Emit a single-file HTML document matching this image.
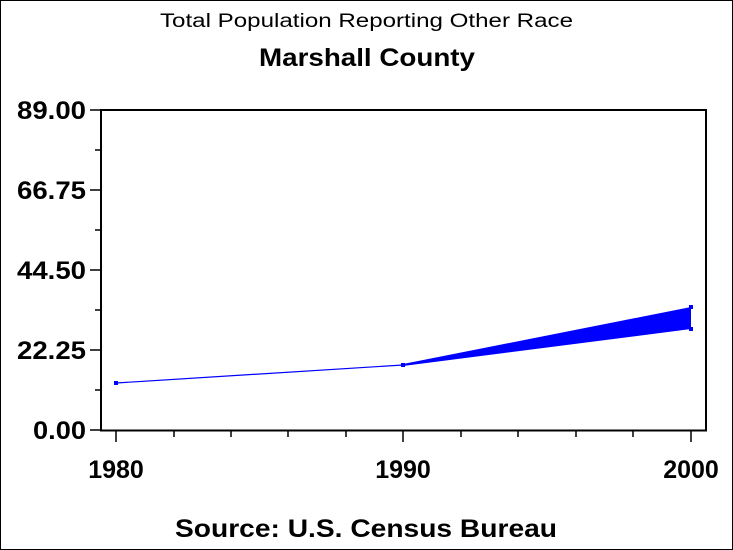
<!DOCTYPE html>
<html><head><style>
body{margin:0;background:#fff}
svg{display:block}
text{font-family:"Liberation Sans",Arial,sans-serif;fill:#000}
</style></head><body>
<svg width="733" height="550" viewBox="0 0 733 550">
<rect x="0.5" y="0.5" width="732" height="549" fill="#fff" stroke="#000"/>
<text x="160" y="27" font-size="19" textLength="413" lengthAdjust="spacingAndGlyphs">Total Population Reporting Other Race</text>
<text x="259" y="66" font-size="25" font-weight="bold" textLength="216" lengthAdjust="spacingAndGlyphs">Marshall County</text>
<text x="175" y="537" font-size="25" font-weight="bold" textLength="382" lengthAdjust="spacingAndGlyphs">Source: U.S. Census Bureau</text>
<rect x="101" y="110" width="605" height="320.5" fill="none" stroke="#000" stroke-width="2"/>
<g stroke="#000" stroke-width="1.5">
<line x1="90" y1="110" x2="101" y2="110"/><line x1="95" y1="150" x2="101" y2="150"/>
<line x1="90" y1="190" x2="101" y2="190"/><line x1="95" y1="230" x2="101" y2="230"/>
<line x1="90" y1="270" x2="101" y2="270"/><line x1="95" y1="310" x2="101" y2="310"/>
<line x1="90" y1="350" x2="101" y2="350"/><line x1="95" y1="390" x2="101" y2="390"/>
<line x1="90" y1="430" x2="101" y2="430"/>
<line x1="116" y1="430" x2="116" y2="442"/><line x1="403" y1="430" x2="403" y2="442"/><line x1="691" y1="430" x2="691" y2="442"/>
<line x1="174" y1="430" x2="174" y2="437"/><line x1="231" y1="430" x2="231" y2="437"/><line x1="288" y1="430" x2="288" y2="437"/><line x1="346" y1="430" x2="346" y2="437"/>
<line x1="461" y1="430" x2="461" y2="437"/><line x1="518" y1="430" x2="518" y2="437"/><line x1="576" y1="430" x2="576" y2="437"/><line x1="633" y1="430" x2="633" y2="437"/>
</g>
<g font-size="25" font-weight="bold">
<text x="17" y="119" textLength="69" lengthAdjust="spacingAndGlyphs">89.00</text>
<text x="17" y="199" textLength="69" lengthAdjust="spacingAndGlyphs">66.75</text>
<text x="17" y="279" textLength="69" lengthAdjust="spacingAndGlyphs">44.50</text>
<text x="17" y="359" textLength="69" lengthAdjust="spacingAndGlyphs">22.25</text>
<text x="33" y="439" textLength="53" lengthAdjust="spacingAndGlyphs">0.00</text>
</g>
<g font-size="25" text-anchor="middle" font-weight="bold">
<text x="116" y="478">1980</text><text x="403" y="478">1990</text><text x="691" y="478">2000</text>
</g>
<polyline points="116,383 403,365" fill="none" stroke="#00f" stroke-width="1.2"/>
<polygon points="403,364 691,307 691,329 403,366" fill="#00f"/>
<rect x="114" y="381" width="4" height="4" fill="#00f"/>
<rect x="401" y="363" width="4" height="4" fill="#00f"/>
<rect x="689" y="305" width="4" height="4" fill="#00f"/>
<rect x="689" y="327" width="4" height="4" fill="#00f"/>
</svg>
</body></html>
